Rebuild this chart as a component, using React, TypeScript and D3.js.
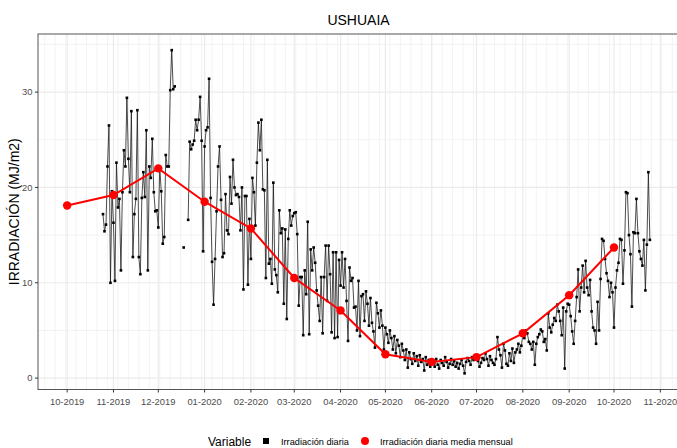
import React from 'react';
import * as d3 from 'd3';

const W = 677;
const H = 448;

// ---- DATA ----
const titleText = 'USHUAIA';
const yTitle = 'IRRADIACIÓN (MJ/m2)';
const legendTitle = 'Variable';
const seriesNames = ['Irradiación diaria', 'Irradiación diaria media mensual'];

const xTickLabels = ['10-2019', '11-2019', '12-2019', '01-2020', '02-2020', '03-2020', '04-2020',
  '05-2020', '06-2020', '07-2020', '08-2020', '09-2020', '10-2020', '11-2020'];
const yTicks = [0, 10, 20, 30];

const monthlyDates = ['2019-10-01', '2019-11-01', '2019-12-01', '2020-01-01', '2020-02-01', '2020-03-01',
  '2020-04-01', '2020-05-01', '2020-06-01', '2020-07-01', '2020-08-01', '2020-09-01', '2020-10-01'];
const monthlyMean = [18.1, 19.2, 22.0, 18.5, 15.7, 10.5, 7.1, 2.5, 1.7, 2.2, 4.7, 8.7, 13.7];

const dailyStart = '2019-10-25';
const dailyOct2019 = [17.2, 15.4, 16.1, 22.2, 26.5, 10.0, 19.6];
const dailyNov2019 = [16.3, 10.2, 22.6, 17.9, 18.8, 11.3, 19.5, 23.9, 22.2, 29.4,
  23.0, 19.5, 28.0, 12.7, 17.2, 18.8, 28.1, 12.7, 10.9, 18.9,
  21.6, 19.0, 26.0, 11.3, 22.2, 21.0, 25.1, 19.5, 17.5, 17.6];
const dailyDec2019 = [15.8, 22.0, 19.6, 14.1, 14.8, 23.4, 22.2, 22.2, 30.2, 34.4,
  30.3, 30.6, null, null, null, null, null, 13.7, null, null,
  16.6, 24.8, 24.0, 24.5, 24.9, 27.1, 26.0, 27.1, 29.5, 24.9, 13.3];
const dailyJan2020 = [24.3, 26.0, 26.3, 31.4, 18.9, 12.2, 7.7, 12.5, 17.5, 22.2,
  24.3, 18.7, 12.7, 13.1, 19.3, 15.5, 15.1, 21.1, 18.3, 22.9,
  20.0, 19.2, 19.3, 19.0, 15.5, 20.0, 9.3, 19.1, 19.1, 9.8, 16.7];
const dailyFeb2020 = [12.5, 21.0, 19.5, 16.0, 22.6, 26.8, 23.9, 27.1, 19.8, 19.7,
  10.5, 22.9, 12.0, 12.5, 9.9, 20.5, 11.4, 10.8, 9.0, 17.6,
  15.2, 15.7, 7.8, 15.6, 6.2, 14.6, 17.6, 16.0, 17.0];
const dailyMar2020 = [17.3, 17.4, 15.1, 7.6, 10.6, 10.6, 4.5, 11.3, 8.8, 16.4,
  4.6, 13.5, 11.3, 13.7, 12.1, 9.2, 7.6, 6.0, 10.6, 4.7,
  10.6, 13.9, 8.1, 13.9, 10.9, 4.8, 13.2, 4.2, 13.2, 4.3, 12.4];
const dailyApr2020 = [9.7, 13.2, 9.5, 12.5, 8.1, 3.9, 11.6, 10.2, 10.5, 7.4,
  7.5, 5.0, 10.2, 4.4, 8.6, 8.8, 6.0, 9.1, 7.8, 5.5,
  8.4, 5.8, 4.9, 3.2, 7.9, 6.8, 5.3, 7.1, 5.5, 3.0];
const dailyMay2020 = [5.3, 4.6, 3.7, 5.0, 4.2, 3.0, 4.4, 2.6, 4.0, 3.4,
  2.2, 3.6, 2.9, 1.9, 3.0, 1.1, 2.7, 2.0, 1.5, 2.6,
  1.8, 2.3, 1.3, 2.4, 1.7, 2.0, 0.8, 2.2, 1.4, 1.9, 1.2];
const dailyJun2020 = [1.5, 1.8, 1.2, 2.0, 1.4, 1.0, 1.9, 1.6, 1.3, 2.2,
  1.7, 1.1, 1.5, 2.0, 1.4, 1.8, 1.2, 1.6, 1.0, 1.5,
  1.9, 1.3, 0.5, 1.7, 2.1, 1.8, 1.4, 2.2, 1.9, 2.4];
const dailyJul2020 = [2.2, 1.8, 1.2, 1.6, 2.1, 1.9, 2.6, 2.0, 1.3, 2.3,
  1.9, 1.6, 1.4, 2.0, 4.3, 3.0, 2.4, 1.1, 3.6, 2.9,
  1.5, 1.3, 2.6, 1.8, 3.1, 1.6, 2.7, 3.0, 3.6, 2.7, 3.4];
const dailyAug2020 = [4.6, 4.2, 5.0, 4.7, 3.8, 3.6, 3.0, 3.8, 1.4, 3.6,
  4.3, 4.6, 5.1, 4.9, 3.8, 4.1, 2.9, 6.8, 5.3, 4.8,
  5.6, 6.3, 6.0, 7.7, 7.0, 6.0, 4.5, 7.4, 1.0, 7.0, 7.8];
const dailySep2020 = [7.7, 6.5, 4.9, 3.6, 6.0, 8.5, 11.4, 7.0, 9.5, 11.8,
  9.0, 12.3, 9.5, 8.7, 10.3, 7.0, 5.3, 5.0, 3.6, 8.0,
  5.0, 10.4, 14.6, 14.4, 12.5, 11.0, 10.2, 8.5, 10.0, 9.0];
const dailyOct2020 = [5.3, 9.5, 11.3, 12.1, 14.6, 14.5, 9.9, 13.4, 19.5, 19.4,
  15.0, 13.0, 7.5, 15.3, 15.2, 18.8, 15.2, 13.3, 12.5, 11.8,
  14.5, 9.2, 14.0, 21.6, 14.5];

// ---- BUILD ----
const parseDay = d3.utcParse('%Y-%m-%d');
const parseTick = d3.utcParse('%m-%Y');

const dailyValues: (number | null)[] = [
  ...dailyOct2019, ...dailyNov2019, ...dailyDec2019, ...dailyJan2020, ...dailyFeb2020,
  ...dailyMar2020, ...dailyApr2020, ...dailyMay2020, ...dailyJun2020, ...dailyJul2020,
  ...dailyAug2020, ...dailySep2020, ...dailyOct2020,
];
const startDate = parseDay(dailyStart) as Date;
const daily = dailyValues.map((v, i) => ({ date: d3.utcDay.offset(startDate, i), v }));
const monthly = monthlyDates.map((s, i) => ({ date: parseDay(s) as Date, v: monthlyMean[i] }));

const FONT = '"Liberation Sans", Arial, Helvetica, sans-serif';

const PL = 38, PR = 679, PT = 34, PB = 389.5;

export default function App() {
  const allDates = [...daily.map(d => d.date), ...monthly.map(d => d.date)];
  const [dmin, dmax] = d3.extent(allDates) as [Date, Date];
  const span = +dmax - +dmin;
  const x = d3.scaleUtc()
    .domain([new Date(+dmin - span * 0.05), new Date(+dmax + span * 0.05)])
    .range([PL, PR]);

  const allVals = [...daily.filter(d => d.v != null).map(d => d.v as number), ...monthly.map(d => d.v)];
  const [vmin, vmax] = d3.extent(allVals) as [number, number];
  const vspan = vmax - vmin;
  const y = d3.scaleLinear().domain([vmin - vspan * 0.05, vmax + vspan * 0.05]).range([PB, PT]);

  const [x0, x1] = x.domain();
  const weekly = d3.utcMonday.range(x0, x1);
  const yDom = y.domain();
  const yMinor = yTicks.map(t => t + 5).filter(t => t > yDom[0] && t < yDom[1]);
  const xTicks = xTickLabels.map(l => ({ label: l, date: parseTick(l) as Date }));

  const line = d3.line<{ date: Date; v: number | null }>()
    .defined(d => d.v != null)
    .x(d => x(d.date))
    .y(d => y(d.v as number));

  const redLine = d3.line<{ date: Date; v: number }>()
    .x(d => x(d.date))
    .y(d => y(d.v));

  return (
    <svg width={W} height={H} style={{ position: 'absolute', left: 0, top: 0, background: '#fff' }}
      fontFamily={FONT}>
      <rect x={0} y={0} width={W} height={H} fill="#fff" />
      <defs>
        <clipPath id="panel">
          <rect x={PL} y={PT} width={PR - PL} height={PB - PT} />
        </clipPath>
      </defs>
      {/* grid */}
      <g clipPath="url(#panel)">
        {weekly.map((d, i) => (
          <line key={'wm' + i} x1={x(d)} x2={x(d)} y1={PT} y2={PB} stroke="#ebebeb" strokeWidth={0.6} />
        ))}
        {yMinor.map((t, i) => (
          <line key={'ym' + i} x1={PL} x2={PR} y1={y(t)} y2={y(t)} stroke="#ebebeb" strokeWidth={0.6} />
        ))}
        {xTicks.map((t, i) => (
          <line key={'xM' + i} x1={x(t.date)} x2={x(t.date)} y1={PT} y2={PB} stroke="#ebebeb" strokeWidth={1.2} />
        ))}
        {yTicks.map((t, i) => (
          <line key={'yM' + i} x1={PL} x2={PR} y1={y(t)} y2={y(t)} stroke="#ebebeb" strokeWidth={1.2} />
        ))}
      </g>
      {/* data */}
      <g clipPath="url(#panel)">
        <path d={line(daily) || ''} fill="none" stroke="#111" strokeWidth={0.75} />
        {daily.filter(d => d.v != null).map((d, i) => (
          <rect key={'p' + i} x={x(d.date) - 1.3} y={y(d.v as number) - 1.3} width={2.6} height={2.6} fill="#000" />
        ))}
        <path d={redLine(monthly) || ''} fill="none" stroke="#ff0000" strokeWidth={2} />
        {monthly.map((d, i) => (
          <circle key={'m' + i} cx={x(d.date)} cy={y(d.v)} r={4.2} fill="#ff0000" />
        ))}
      </g>
      {/* border */}
      <rect x={PL} y={PT} width={PR - PL} height={PB - PT} fill="none" stroke="#555" strokeWidth={1} />
      {/* axes */}
      {xTicks.map((t, i) => (
        <g key={'xt' + i}>
          <line x1={x(t.date)} x2={x(t.date)} y1={PB} y2={PB + 3} stroke="#333" strokeWidth={1} />
          <text x={x(t.date)} y={PB + 15} textAnchor="middle" fontSize={9.4} fill="#4d4d4d">{t.label}</text>
        </g>
      ))}
      {yTicks.map((t, i) => (
        <g key={'yt' + i}>
          <line x1={PL - 3} x2={PL} y1={y(t)} y2={y(t)} stroke="#333" strokeWidth={1} />
          <text x={PL - 5.5} y={y(t) + 3.3} textAnchor="end" fontSize={9.4} fill="#4d4d4d">{t}</text>
        </g>
      ))}
      <text x={(PL + PR) / 2} y={25} textAnchor="middle" fontSize={14} fill="#000">{titleText}</text>
      <text transform={`translate(19,${(PT + PB) / 2}) rotate(-90)`} textAnchor="middle" fontSize={14} fill="#000">{yTitle}</text>
      {/* legend */}
      <text x={208} y={446} fontSize={12} fill="#000">{legendTitle}</text>
      <rect x={263} y={438} width={6} height={6} fill="#000" />
      <text x={281} y={444.5} fontSize={9.2} fill="#000">{seriesNames[0]}</text>
      <circle cx={365} cy={441} r={4} fill="#ff0000" />
      <text x={380} y={444.5} fontSize={9.2} fill="#000">{seriesNames[1]}</text>
    </svg>
  );
}
